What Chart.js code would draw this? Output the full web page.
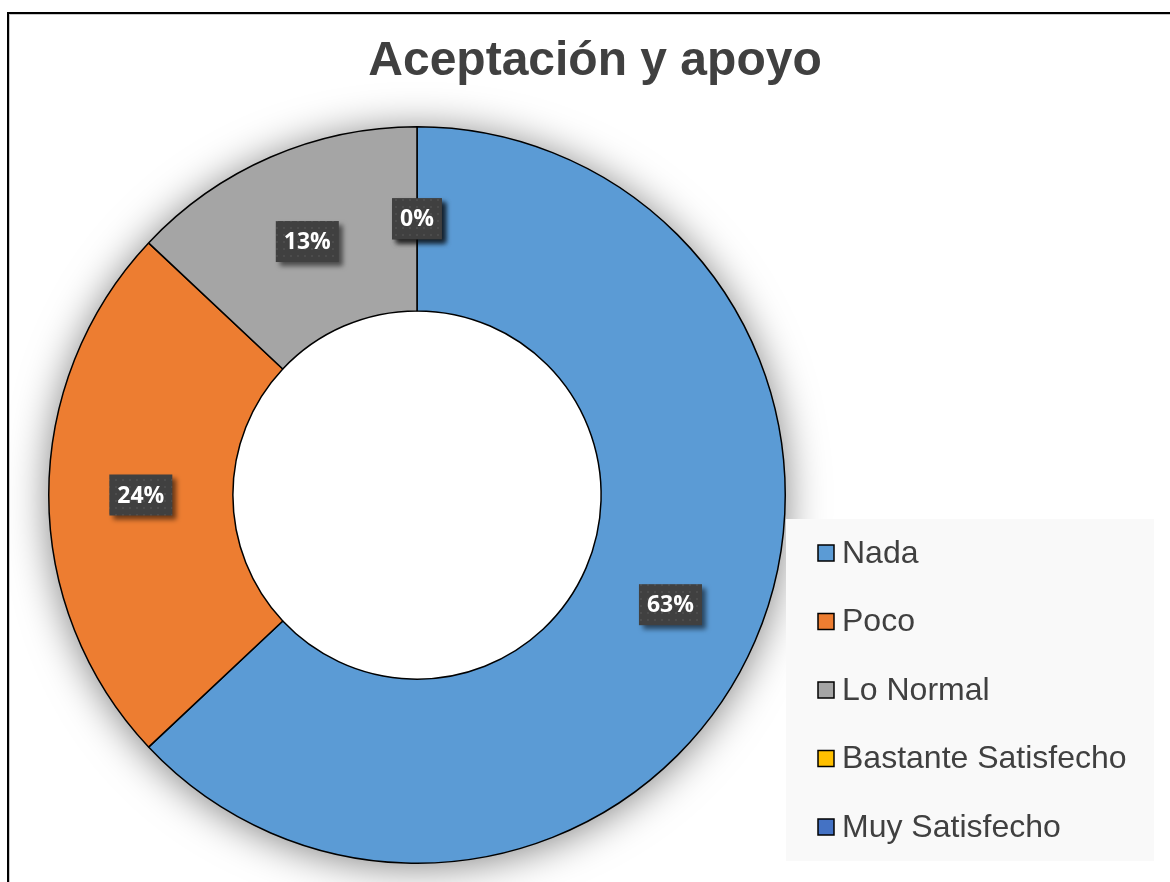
<!DOCTYPE html>
<html>
<head>
<meta charset="utf-8">
<title>Aceptación y apoyo</title>
<script src="https://cdn.jsdelivr.net/npm/chart.js@4/dist/chart.umd.min.js"></script>
<style>
  body { margin: 0; background: #fff; }
  #wrap { position: relative; width: 1170px; height: 882px; overflow: hidden; }
  #frame {
    position: absolute; left: 7px; top: 12px; width: 1200px; height: 900px;
    border-left: 2px solid #000; border-top: 2px solid #000;
    box-shadow: inset 1px 1px 0 #c8c8c8;
  }
  canvas { position: absolute; left: 0; top: 0; }
</style>
</head>
<body>
<div id="wrap">
  <div id="frame"></div>
  <canvas id="chart" width="1170" height="882"></canvas>
</div>
<script>
// Datos del gráfico
const chartTitle = 'Aceptación y apoyo';
const categories = ['Nada', 'Poco', 'Lo Normal', 'Bastante Satisfecho', 'Muy Satisfecho'];
const values = [63, 24, 13, 0, 0];
const colors = ['#5B9BD5', '#ED7D31', '#A5A5A5', '#FFC000', '#4472C4'];

// Patrón oscuro con puntos para las etiquetas
function makeLabelPattern(ctx) {
    const p = document.createElement('canvas');
    p.width = 7; p.height = 7;
    const pc = p.getContext('2d');
    pc.fillStyle = '#404040';
    pc.fillRect(0, 0, 7, 7);
    pc.fillStyle = '#4c4c4c';
    pc.fillRect(3, 3, 2, 2);
    return ctx.createPattern(p, 'repeat');
}

// Sombra detrás del anillo
const ringShadow = {
    id: 'ringShadow',
    beforeDatasetsDraw(chart) {
        const arc = chart.getDatasetMeta(0).data[0];
        if (!arc) return;
        const ctx = chart.ctx;
        ctx.save();
        ctx.shadowColor = 'rgba(0,0,0,0.5)';
        ctx.shadowBlur = 40;
        ctx.shadowOffsetY = 3;
        ctx.fillStyle = '#fff';
        ctx.beginPath();
        ctx.arc(arc.x, arc.y, arc.outerRadius, 0, Math.PI * 2);
        ctx.fill();
        ctx.restore();
    }
};

// Etiquetas de porcentaje
const pctLabels = {
    id: 'pctLabels',
    afterDatasetsDraw(chart) {
        const ctx = chart.ctx;
        const meta = chart.getDatasetMeta(0);
        const data = chart.data.datasets[0].data;
        const total = data.reduce((a, b) => a + b, 0);
        const pattern = makeLabelPattern(ctx);
        ctx.save();
        ctx.font = 'bold 23px "Open Sans", sans-serif';
        ctx.textAlign = 'center';
        ctx.textBaseline = 'middle';
        meta.data.forEach((arc, i) => {
            const txt = Math.round(data[i] / total * 100) + '%';
            const pos = arc.tooltipPosition();
            const w = ctx.measureText(txt).width + 16;
            const h = 41;
            ctx.save();
            ctx.shadowColor = 'rgba(0,0,0,0.55)';
            ctx.shadowBlur = 5;
            ctx.shadowOffsetX = 4;
            ctx.shadowOffsetY = 4;
            ctx.fillStyle = pattern;
            ctx.fillRect(pos.x - w / 2, pos.y - h / 2, w, h);
            ctx.restore();
            ctx.fillStyle = '#ffffff';
            ctx.fillText(txt, pos.x, pos.y + 1);
        });
        ctx.restore();
    }
};

// Título y leyenda
const titleLegend = {
    id: 'titleLegend',
    afterDraw(chart) {
        const ctx = chart.ctx;
        ctx.save();
        ctx.fillStyle = '#404040';
        ctx.font = 'bold 48px "Liberation Sans", Arial, sans-serif';
        ctx.textAlign = 'center';
        ctx.textBaseline = 'middle';
        ctx.fillText(chartTitle, 595, 62);

        ctx.fillStyle = '#f9f9f9';
        ctx.fillRect(786, 519, 368, 342);
        ctx.font = '32px "Liberation Sans", Arial, sans-serif';
        ctx.textAlign = 'left';
        chart.data.labels.forEach((lab, i) => {
            const y = 553 + i * 68.5;
            ctx.fillStyle = chart.data.datasets[0].backgroundColor[i];
            ctx.fillRect(818, y - 8, 16, 16);
            ctx.strokeStyle = '#000';
            ctx.lineWidth = 1.5;
            ctx.strokeRect(818, y - 8, 16, 16);
            ctx.fillStyle = '#404040';
            ctx.fillText(lab, 842, y + 1);
        });
        ctx.restore();
    }
};

const ctx = document.getElementById('chart').getContext('2d');
const chart = new Chart(ctx, {
    type: 'doughnut',
    data: {
        labels: categories,
        datasets: [{
            data: values,
            backgroundColor: colors,
            borderColor: '#000000',
            borderWidth: 1.5
        }]
    },
    options: {
        responsive: false,
        animation: false,
        events: [],
        cutout: '50%',
        layout: {
            padding: { left: 48, top: 126, right: 384, bottom: 18 }
        },
        plugins: {
            legend: { display: false },
            title: { display: false },
            tooltip: { enabled: false }
        }
    },
    plugins: [ringShadow, pctLabels, titleLegend]
});
</script>
</body>
</html>
